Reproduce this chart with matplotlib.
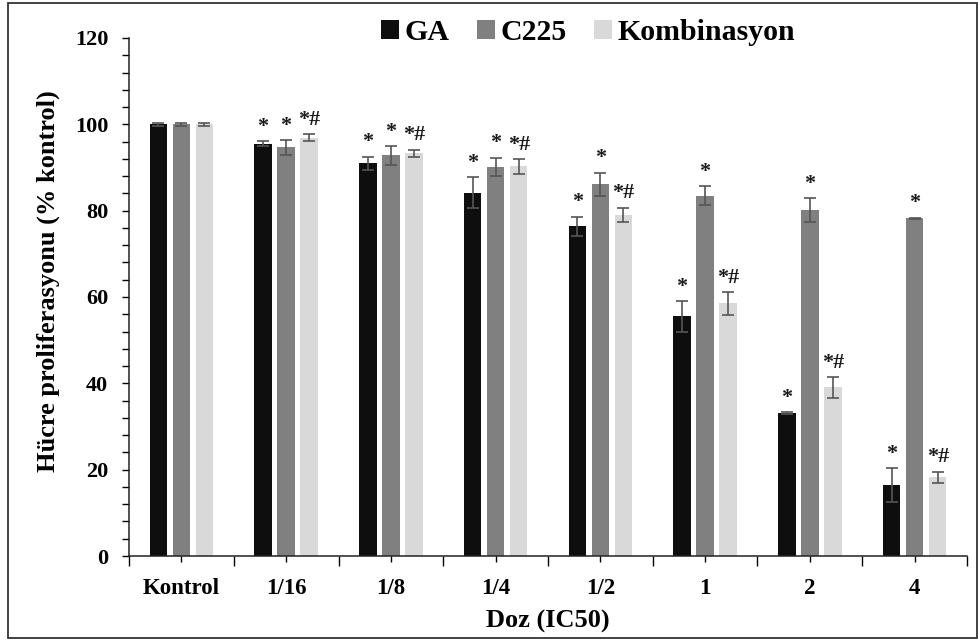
import matplotlib.pyplot as plt
import numpy as np
from matplotlib.patches import Rectangle
from matplotlib.ticker import MultipleLocator

plt.rcParams["font.family"] = ["Liberation Serif", "DejaVu Serif"]
plt.rcParams["font.weight"] = "bold"
plt.rcParams["axes.labelweight"] = "bold"

doses = ["Kontrol", "1/16", "1/8", "1/4", "1/2", "1", "2", "4"]
series = ["GA", "C225", "Kombinasyon"]

ga_mean = [100.0, 95.5, 91.0, 84.2, 76.4, 55.5, 33.1, 16.4]
ga_err = [0.3, 0.6, 1.5, 3.5, 2.2, 3.5, 0.3, 4.0]
c225_mean = [100.0, 94.7, 92.8, 90.2, 86.1, 83.5, 80.1, 78.2]
c225_err = [0.3, 1.7, 2.2, 2.1, 2.7, 2.2, 2.8, 0.2]
komb_mean = [100.0, 96.9, 93.3, 90.3, 79.0, 58.5, 39.1, 18.2]
komb_err = [0.3, 0.85, 0.8, 1.7, 1.7, 2.7, 2.4, 1.35]

ga_mark = ["", "*", "*", "*", "*", "*", "*", "*"]
c225_mark = ["", "*", "*", "*", "*", "*", "*", "*"]
komb_mark = ["", "*#", "*#", "*#", "*#", "*#", "*#", "*#"]

colors = ["#0e0e0e", "#808080", "#d9d9d9"]

fig = plt.figure(figsize=(9.79, 6.41), dpi=100)
ax = fig.add_axes([129 / 979, 1 - 556 / 641, (967 - 129) / 979, (556 - 38) / 641])

x = np.arange(len(doses))
offsets = [-0.22, 0.0, 0.22]
width = 0.168

all_means = [ga_mean, c225_mean, komb_mean]
all_errs = [ga_err, c225_err, komb_err]
all_marks = [ga_mark, c225_mark, komb_mark]

for name, mean, err, marks, off, col in zip(series, all_means, all_errs, all_marks, offsets, colors):
    ax.bar(x + off, mean, width, color=col, label=name, zorder=2,
           yerr=err, capsize=4,
           error_kw=dict(ecolor="#555555", elinewidth=1.2, capthick=1.2))
    for xi, m, e, mk in zip(x, mean, err, marks):
        if mk:
            ax.text(xi + off, m + e + 1.0, mk, ha="center", va="bottom",
                    fontsize=16, fontweight="bold", color="#1a1a1a")

ax.set_xlim(-0.5, len(doses) - 0.5)
ax.set_ylim(0, 120)

ax.set_xticks(x)
ax.set_xticklabels(doses)
ax.set_xticks(np.arange(-0.5, len(doses), 1.0), minor=True)
ax.yaxis.set_major_locator(MultipleLocator(20))
ax.yaxis.set_minor_locator(MultipleLocator(4))

ax.tick_params(axis="x", which="major", length=4, width=1, pad=12, labelsize=16.5)
ax.tick_params(axis="x", which="minor", length=7, width=1)
ax.tick_params(axis="y", which="both", length=5, width=1, pad=10, labelsize=16)

for side in ["top", "right"]:
    ax.spines[side].set_visible(False)
for side in ["left", "bottom"]:
    ax.spines[side].set_linewidth(1.1)
    ax.spines[side].set_color("#222222")

ax.set_xlabel("Doz (IC50)", fontsize=19, labelpad=8)
ax.set_ylabel("Hücre proliferasyonu (% kontrol)", fontsize=19)
ax.yaxis.set_label_coords(-0.082, 0.53)

fig.legend(loc="center", bbox_to_anchor=(588 / 979, 1 - 33 / 641), ncol=3,
           frameon=False, fontsize=21.5, handlelength=0.6, handleheight=0.6,
           handletextpad=0.2, columnspacing=0.9)

# thin frame around the whole figure
fig.patches.append(Rectangle((8 / 979, 3 / 641), 969 / 979, 635 / 641,
                             transform=fig.transFigure, fill=False,
                             edgecolor="#333333", linewidth=1.3))

fig.savefig("out.png", dpi=100)
